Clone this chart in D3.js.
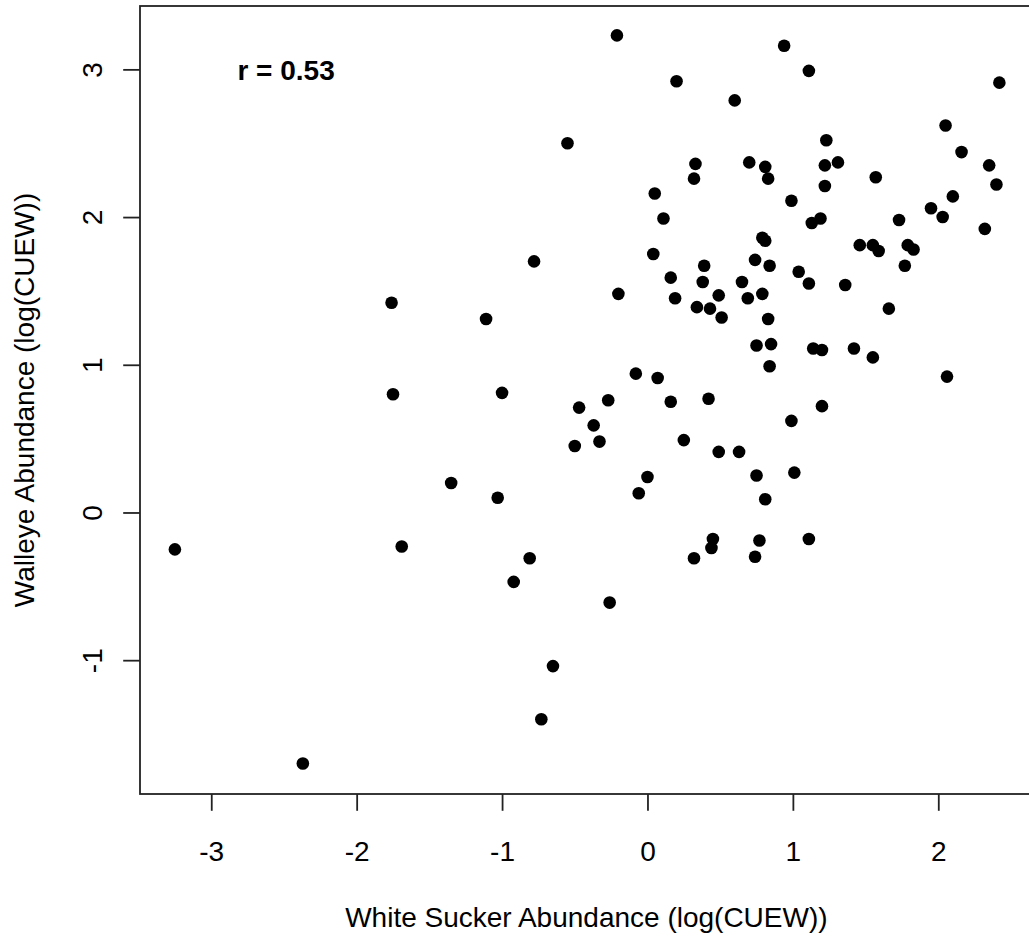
<!DOCTYPE html>
<html>
<head>
<meta charset="utf-8">
<script src="https://cdn.jsdelivr.net/npm/d3@7"></script>
<style>
body { margin: 0; background: #fff; }
text { font-family: "Liberation Sans", Arial, sans-serif; }
</style>
</head>
<body>
<div id="chart"></div>
<script>
// white sucker abundance, log(CUEW)
var whiteSucker = [
-0.21, 0.94, 1.11, 0.20, 0.60, 2.42, 2.05, 1.23, 2.16, 0.33,
0.70, 0.81, 0.83, 1.22, 1.31, 1.57, 2.35, 2.40, 0.32, 1.22,
0.05, 0.99, 2.10, 1.95, 2.03, 0.11, 1.13, 1.19, 1.73, 2.32,
0.79, 0.81, 1.46, 1.55, 1.59, 1.79, 1.83, 0.04, 0.74, 0.39,
0.84, 1.77, 1.04, 0.16, 1.11, 0.38, 0.65, 1.36, -0.20, 0.19,
0.49, 0.69, 0.79, 0.34, 0.43, 0.51, 1.66, 0.83, 0.75, 0.85,
1.14, 1.20, 1.42, 1.55, 0.84, -0.08, 0.07, 2.06,
-0.55, -0.78, -1.76, -1.11, -1.75, -1.00,
-0.47, -0.50, -1.35, -1.03, -3.25, -1.69, -0.81, -0.92, -0.65, -0.73, -2.37,
-0.27, 0.16, 0.42, 1.20, -0.37, -0.33, 0.25, 0.99, 0.49, 0.63,
0.00, -0.06, 0.75, 1.01, 0.81, 0.45, 0.44, 0.32, 0.77, 0.74, 1.11, -0.26
];

// walleye abundance, log(CUEW)
var walleye = [
3.23, 3.16, 2.99, 2.92, 2.79, 2.91, 2.62, 2.52, 2.44, 2.36,
2.37, 2.34, 2.26, 2.35, 2.37, 2.27, 2.35, 2.22, 2.26, 2.21,
2.16, 2.11, 2.14, 2.06, 2.00, 1.99, 1.96, 1.99, 1.98, 1.92,
1.86, 1.84, 1.81, 1.81, 1.77, 1.81, 1.78, 1.75, 1.71, 1.67,
1.67, 1.67, 1.63, 1.59, 1.55, 1.56, 1.56, 1.54, 1.48, 1.45,
1.47, 1.45, 1.48, 1.39, 1.38, 1.32, 1.38, 1.31, 1.13, 1.14,
1.11, 1.10, 1.11, 1.05, 0.99, 0.94, 0.91, 0.92,
2.50, 1.70, 1.42, 1.31, 0.80, 0.81,
0.71, 0.45, 0.20, 0.10, -0.25, -0.23, -0.31, -0.47, -1.04, -1.40, -1.70,
0.76, 0.75, 0.77, 0.72, 0.59, 0.48, 0.49, 0.62, 0.41, 0.41,
0.24, 0.13, 0.25, 0.27, 0.09, -0.18, -0.24, -0.31, -0.19, -0.30, -0.18, -0.61
];

var xTicks = [-3, -2, -1, 0, 1, 2];
var yTicks = [-1, 0, 1, 2, 3];
var xTitle = "White Sucker Abundance (log(CUEW))";
var yTitle = "Walleye Abundance (log(CUEW))";
var rLabel = "r = 0.53";
var rLabelAt = [-2.82, 2.93];

var data = whiteSucker.map(function(d, i) { return {x: d, y: walleye[i]}; });

var W = 1029, H = 938;
var plot = {left: 140, top: 6, right: 1032.8, bottom: 794};
var fontSize = 28;
var tick = 16.8;
var fmt = d => String(d); // plain hyphen like R

var svg = d3.select("#chart").append("svg")
	.attr("width", W)
	.attr("height", H);

var x = d3.scaleLinear().domain([-3.49, 2.65]).range([plot.left, plot.right]);
var y = d3.scaleLinear().domain([-1.906, 3.429]).range([plot.bottom, plot.top]);

// points
svg.selectAll(".dot")
	.data(data)
	.enter().append("circle")
	.attr("class", "dot")
	.attr("cx", d => x(d.x))
	.attr("cy", d => y(d.y))
	.attr("r", 6.3)
	.style("fill", "#000");

// box
svg.append("rect")
	.attr("x", plot.left)
	.attr("y", plot.top)
	.attr("width", plot.right - plot.left)
	.attr("height", plot.bottom - plot.top)
	.style("fill", "none")
	.style("stroke", "#222")
	.style("stroke-width", 1.8);

//x axis
var gx = svg.append("g")
	.attr("transform", "translate(0," + plot.bottom + ")")
	.call(d3.axisBottom(x).tickValues(xTicks).tickSize(tick).tickFormat(fmt));
gx.select(".domain").remove();
gx.selectAll(".tick line").style("stroke", "#222").style("stroke-width", 1.8);
gx.selectAll(".tick text")
	.attr("y", 66.7)
	.attr("dy", null)
	.style("font-size", fontSize + "px")
	.style("fill", "#000");

//y axis
var gy = svg.append("g")
	.attr("transform", "translate(" + plot.left + ",0)")
	.call(d3.axisLeft(y).tickValues(yTicks).tickSize(tick).tickFormat(fmt));
gy.select(".domain").remove();
gy.selectAll(".tick line").style("stroke", "#222").style("stroke-width", 1.8);
gy.selectAll(".tick text")
	.attr("x", null)
	.attr("dy", null)
	.attr("text-anchor", "middle")
	.attr("transform", "translate(-38.5,0) rotate(-90)")
	.style("font-size", fontSize + "px")
	.style("fill", "#000");

// axis titles
svg.append("text")
	.attr("x", (plot.left + plot.right) / 2)
	.attr("y", 926.7)
	.attr("text-anchor", "middle")
	.style("font-size", fontSize + "px")
	.text(xTitle);

svg.append("text")
	.attr("transform", "translate(33.5," + (plot.top + plot.bottom) / 2 + ") rotate(-90)")
	.attr("text-anchor", "middle")
	.style("font-size", fontSize + "px")
	.text(yTitle);

// correlation label
svg.append("text")
	.attr("x", x(rLabelAt[0]))
	.attr("y", y(rLabelAt[1]))
	.style("font-size", fontSize + "px")
	.style("font-weight", "bold")
	.text(rLabel);
</script>
</body>
</html>
